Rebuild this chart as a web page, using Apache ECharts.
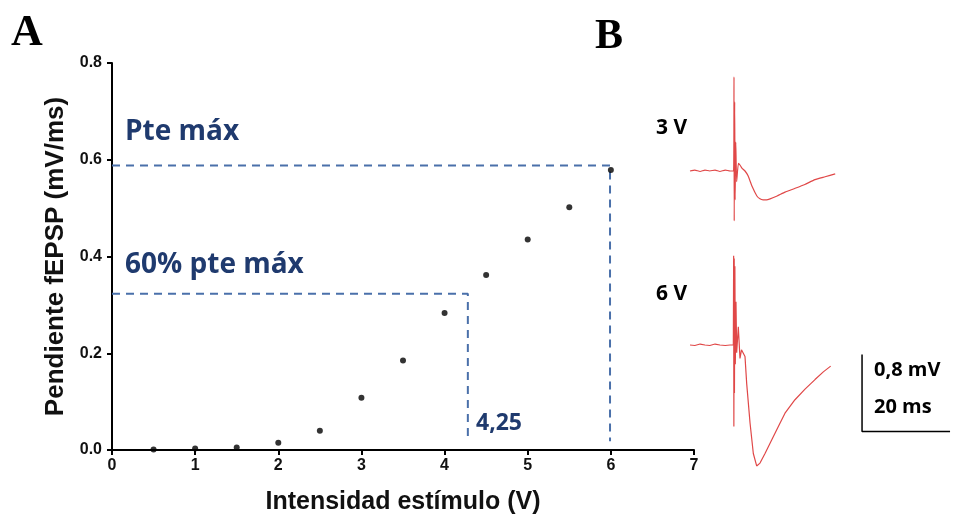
<!DOCTYPE html>
<html>
<head>
<meta charset="utf-8">
<script src="https://cdn.jsdelivr.net/npm/echarts@6/dist/echarts.min.js"></script>
<style>
  html, body { margin: 0; padding: 0; background: #fff; }
  #chart { width: 955px; height: 520px; }
</style>
</head>
<body>
<div id="chart"></div>
<script>
// panel A: slope vs stimulus intensity
const intensity = [0.5, 1, 1.5, 2, 2.5, 3, 3.5, 4, 4.5, 5, 5.5, 6];
const slope = [0.001, 0.003, 0.005, 0.015, 0.04, 0.108, 0.185, 0.283, 0.362, 0.435, 0.502, 0.579];
const yTicks = [0, 0.2, 0.4, 0.6, 0.8];
const xTicks = [0, 1, 2, 3, 4, 5, 6, 7];

// guide lines (max slope, 60% of max)
const pteMax = 0.588, pteMaxX = 5.99;
const pte60 = 0.323, pte60X = 4.28;
const guideEnd = 0.018;

// panel B: fEPSP traces (ms, mV)
const t3 = [0, 1.1, 2.3, 3.4, 4.5, 5.7, 6.8, 8, 9.1, 9.9, 10.0, 10.05, 10.15, 10.25, 10.4, 10.6, 11.0, 11.4, 11.8, 12.5, 13.2, 14.1, 15.2, 15.9, 16.6, 17.4, 18.2, 19.8, 21.6, 23.9, 26.1, 28.4, 30.7, 33];
const v3 = [0, 0.01, -0.005, 0.01, 0, 0.01, -0.005, 0.01, 0, 0, 0.98, -0.52, 0.72, -0.3, 0.3, -0.11, 0.08, 0.06, 0.03, 0, -0.05, -0.16, -0.26, -0.29, -0.3, -0.3, -0.29, -0.26, -0.22, -0.18, -0.14, -0.09, -0.06, -0.03];
const t6 = [0, 1.1, 2.3, 3.4, 4.5, 5.7, 6.8, 8, 9.1, 9.85, 9.92, 9.97, 10.05, 10.1, 10.2, 10.3, 10.45, 10.61, 10.98, 11.36, 11.7, 12.12, 12.5, 12.88, 13.64, 14.39, 15.15, 15.91, 17.05, 18.56, 20.08, 21.59, 23.86, 26.14, 28.41, 30.3, 31.97];
const v6 = [0, -0.005, 0.01, 0, -0.005, 0.01, 0, -0.005, 0, 0, 0.93, -0.85, 0.9, -0.5, 0.82, -0.2, 0.45, -0.08, 0.19, -0.14, -0.05, -0.07, -0.12, -0.4, -0.81, -1.13, -1.26, -1.23, -1.13, -0.99, -0.85, -0.71, -0.57, -0.46, -0.36, -0.28, -0.22];
// scale bar: 0.8 mV, 20 ms
const scaleBar = [[39.1, -0.1], [39.1, -0.9], [59.1, -0.9]];

const chart = echarts.init(document.getElementById('chart'));

const blue = '#1f3a6e';
const dash = { color: '#4a70aa', width: 2, type: [8, 6] };
const traceColor = '#e04848';
const sans = 'Liberation Sans';

function hiddenAxis(idx, min, max) {
    return { gridIndex: idx, type: 'value', min: min, max: max, show: false };
}

let option = {
    animation: false,
    grid: [
        { left: 112, top: 63, width: 582, height: 389 },
        { left: 690, top: 65.4, width: 145.2, height: 192 },
        { left: 690, top: 249, width: 264, height: 240 }
    ],
    xAxis: [
        {
            gridIndex: 0,
            type: 'value',
            min: 0, max: 7, interval: 1,
            name: 'Intensidad estímulo (V)',
            nameLocation: 'middle',
            nameGap: 40,
            nameTextStyle: { fontFamily: sans, fontWeight: 'bold', fontSize: 25, color: '#111' },
            axisLine: { lineStyle: { color: '#000', width: 2 } },
            axisTick: { length: 5, lineStyle: { color: '#000', width: 2 } },
            axisLabel: { fontFamily: sans, fontWeight: 'bold', fontSize: 16, color: '#111', margin: 8 },
            splitLine: { show: false }
        },
        hiddenAxis(1, 0, 33),
        hiddenAxis(2, 0, 60)
    ],
    yAxis: [
        {
            gridIndex: 0,
            type: 'value',
            min: 0, max: 0.8, interval: 0.2,
            name: 'Pendiente fEPSP (mV/ms)',
            nameLocation: 'middle',
            nameGap: 43,
            nameTextStyle: { fontFamily: sans, fontWeight: 'bold', fontSize: 26, color: '#111' },
            axisLine: { show: true, lineStyle: { color: '#000', width: 2 } },
            axisTick: { show: true, length: 5, lineStyle: { color: '#000', width: 2 } },
            axisLabel: {
                fontFamily: sans, fontWeight: 'bold', fontSize: 16, color: '#111', margin: 10,
                formatter: v => v.toFixed(1)
            },
            splitLine: { show: false }
        },
        hiddenAxis(1, -0.9, 1.1),
        hiddenAxis(2, -1.5, 1.0)
    ],
    series: [
        {
            type: 'line',
            xAxisIndex: 0, yAxisIndex: 0,
            data: [[0, pteMax], [pteMaxX, pteMax], [pteMaxX, guideEnd]],
            showSymbol: false,
            lineStyle: dash
        },
        {
            type: 'line',
            xAxisIndex: 0, yAxisIndex: 0,
            data: [[0, pte60], [pte60X, pte60], [pte60X, guideEnd]],
            showSymbol: false,
            lineStyle: dash
        },
        {
            type: 'scatter',
            xAxisIndex: 0, yAxisIndex: 0,
            data: intensity.map((x, i) => [x, slope[i]]),
            symbol: 'circle',
            symbolSize: 6,
            itemStyle: { color: '#000' },
            z: 5
        },
        {
            type: 'line',
            xAxisIndex: 1, yAxisIndex: 1,
            data: t3.map((t, i) => [t, v3[i]]),
            showSymbol: false,
            smooth: 0.15,
            lineStyle: { color: traceColor, width: 1.2 }
        },
        {
            type: 'line',
            xAxisIndex: 2, yAxisIndex: 2,
            data: t6.map((t, i) => [t, v6[i]]),
            showSymbol: false,
            lineStyle: { color: traceColor, width: 1.2 }
        },
        {
            type: 'line',
            xAxisIndex: 2, yAxisIndex: 2,
            data: scaleBar,
            showSymbol: false,
            lineStyle: { color: '#000', width: 1.5 }
        }
    ],
    graphic: [
        { type: 'text', left: 11, top: 12, style: { text: 'A', font: 'bold 44px "Liberation Serif"', fill: '#000' } },
        { type: 'text', left: 595, top: 16, style: { text: 'B', font: 'bold 42px "Liberation Serif"', fill: '#000' } },
        { type: 'text', left: 125, top: 118, style: { text: 'Pte máx', font: 'bold 28px "Open Sans"', fill: blue } },
        { type: 'text', left: 125, top: 251, style: { text: '60% pte máx', font: 'bold 28px "Open Sans"', fill: blue } },
        { type: 'text', left: 476, top: 412, style: { text: '4,25', font: 'bold 23px "Open Sans"', fill: blue } },
        { type: 'text', left: 656, top: 118, style: { text: '3 V', font: 'bold 21px "Open Sans"', fill: '#000' } },
        { type: 'text', left: 656, top: 284, style: { text: '6 V', font: 'bold 21px "Open Sans"', fill: '#000' } },
        { type: 'text', left: 874, top: 360, style: { text: '0,8 mV', font: 'bold 20px "Open Sans"', fill: '#000' } },
        { type: 'text', left: 874, top: 397, style: { text: '20 ms', font: 'bold 20px "Open Sans"', fill: '#000' } }
    ]
};

chart.setOption(option);
</script>
</body>
</html>
